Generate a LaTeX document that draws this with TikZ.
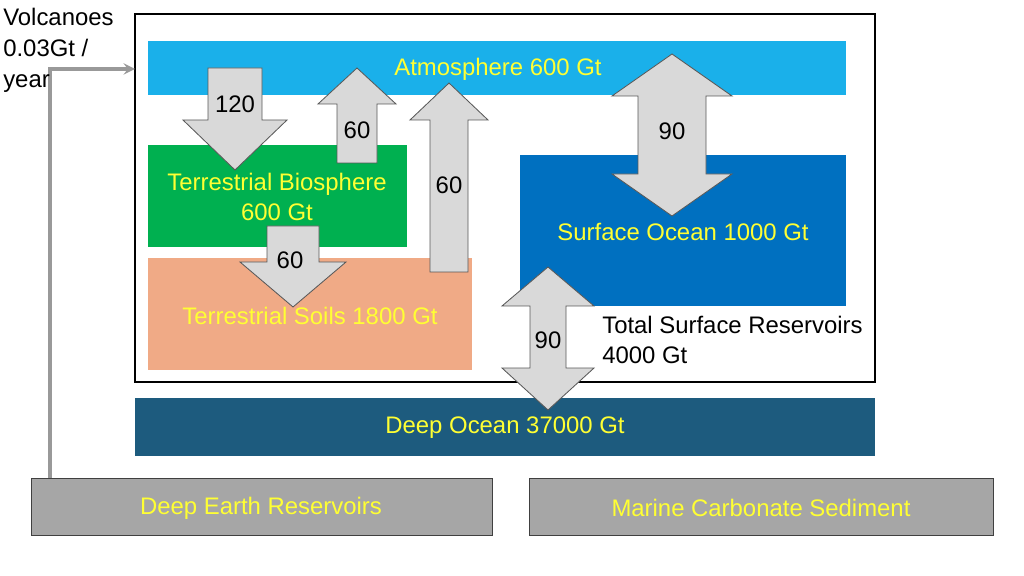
\documentclass[tikz,border=0pt]{standalone}
\usepackage{fontspec}
\setmainfont{Liberation Sans}
\usetikzlibrary{positioning}
\definecolor{atmo}{HTML}{1AB0EA}
\definecolor{bio}{HTML}{00B050}
\definecolor{soil}{HTML}{F0AA86}
\definecolor{socean}{HTML}{0070C0}
\definecolor{docean}{HTML}{1D5B7E}
\definecolor{earth}{HTML}{A6A6A6}
\definecolor{arr}{HTML}{D9D9D9}
\definecolor{txt}{HTML}{FFFF33}
\tikzset{
  res/.style={draw=none, inner sep=0pt},
  lbl/.style={text=txt, font=\fontsize{17}{21}\selectfont, align=center},
  num/.style={font=\fontsize{17}{21}\selectfont}
}
\tikzset{blk/.style={fill=arr, draw=gray!70!black, line width=0.6pt}}
% tip-shaped block arrow: x, shaft start, shaft half, head half, head base, tip
\newcommand{\blkarrow}[6]{%
  \draw[blk] (#1-#3,#2) -- (#1+#3,#2) -- (#1+#3,#5) -- (#1+#4,#5) -- (#1,#6)
    -- (#1-#4,#5) -- (#1-#3,#5) -- cycle;}
% two-headed block arrow: x, top tip, top base, bottom base, bottom tip, shaft half, head half
\newcommand{\dblarrow}[7]{%
  \draw[blk] (#1,#2) -- (#1+#7,#3) -- (#1+#6,#3) -- (#1+#6,#4) -- (#1+#7,#4) -- (#1,#5)
    -- (#1-#7,#4) -- (#1-#6,#4) -- (#1-#6,#3) -- (#1-#7,#3) -- cycle;}
\begin{document}
\begin{tikzpicture}[x=0.025cm, y=-0.025cm]
  \useasboundingbox (0,0) rectangle (1024,576);

  % Reservoirs
  \draw[fill=white, line width=0.8pt] (135,14) rectangle (875,382);
  \fill[atmo] (148,41) rectangle (846,95);
  \fill[bio] (148,145) rectangle (407,247);
  \fill[soil] (148,258) rectangle (472,370);
  \fill[socean] (520,155) rectangle (846,306);
  \fill[docean] (135,398) rectangle (875,456);
  \draw[fill=earth, draw=gray!50!black] (31,478) rectangle (492,535);
  \draw[fill=earth, draw=gray!50!black] (529,478) rectangle (993,535);

  % Volcanic input
  \coordinate (vsrc) at (50,478);
  \coordinate (vbend) at (50,69);
  \coordinate (vin) at (135,69);
  \draw[gray!80, line width=2.5pt, -stealth] (vsrc) -- (vbend) -- (vin);

  % Fluxes
  \blkarrow{235}{68}{27}{52}{120}{170}
  \blkarrow{357}{163}{20}{39}{104}{68}
  \blkarrow{449}{272}{19}{39}{120}{83}
  \blkarrow{293}{226}{26}{53}{262}{307}
  \dblarrow{672}{54}{96}{174}{216}{34}{60}
  \dblarrow{548}{267}{306}{368}{410}{18}{46}

  % Labels
  \node[lbl] (atmos) at (498,69) {Atmosphere 600 Gt};
  \node[lbl] (biosph) at (277,197) {Terrestrial Biosphere\\600 Gt};
  \node[lbl] (soils) at (310,316) {Terrestrial Soils 1800 Gt};
  \node[lbl] (surf) at (683,232) {Surface Ocean 1000 Gt};
  \node[lbl] (deep) at (505,428) {Deep Ocean 37000 Gt};
  \node[lbl] (earthres) at (261,508) {Deep Earth Reservoirs};
  \node[lbl] (marine) at (761,508) {Marine Carbonate Sediment};
  \node[num] (f1) at (235,104) {120};
  \node[num] (f2) at (357,130) {60};
  \node[num] (f3) at (449,185) {60};
  \node[num] (f4) at (290,260) {60};
  \node[num] (f5) at (672,131) {90};
  \node[num] (f6) at (548,340) {90};
  \node[num, align=left, anchor=west, inner sep=0pt] (total) at (602,340) {Total Surface Reservoirs\\4000 Gt};
  \node[num, align=left, anchor=west, inner sep=0pt,
        font=\fontsize{17}{22}\selectfont] (volc) at (3,50) {Volcanoes\\0.03Gt /\\year};
\end{tikzpicture}
\end{document}
